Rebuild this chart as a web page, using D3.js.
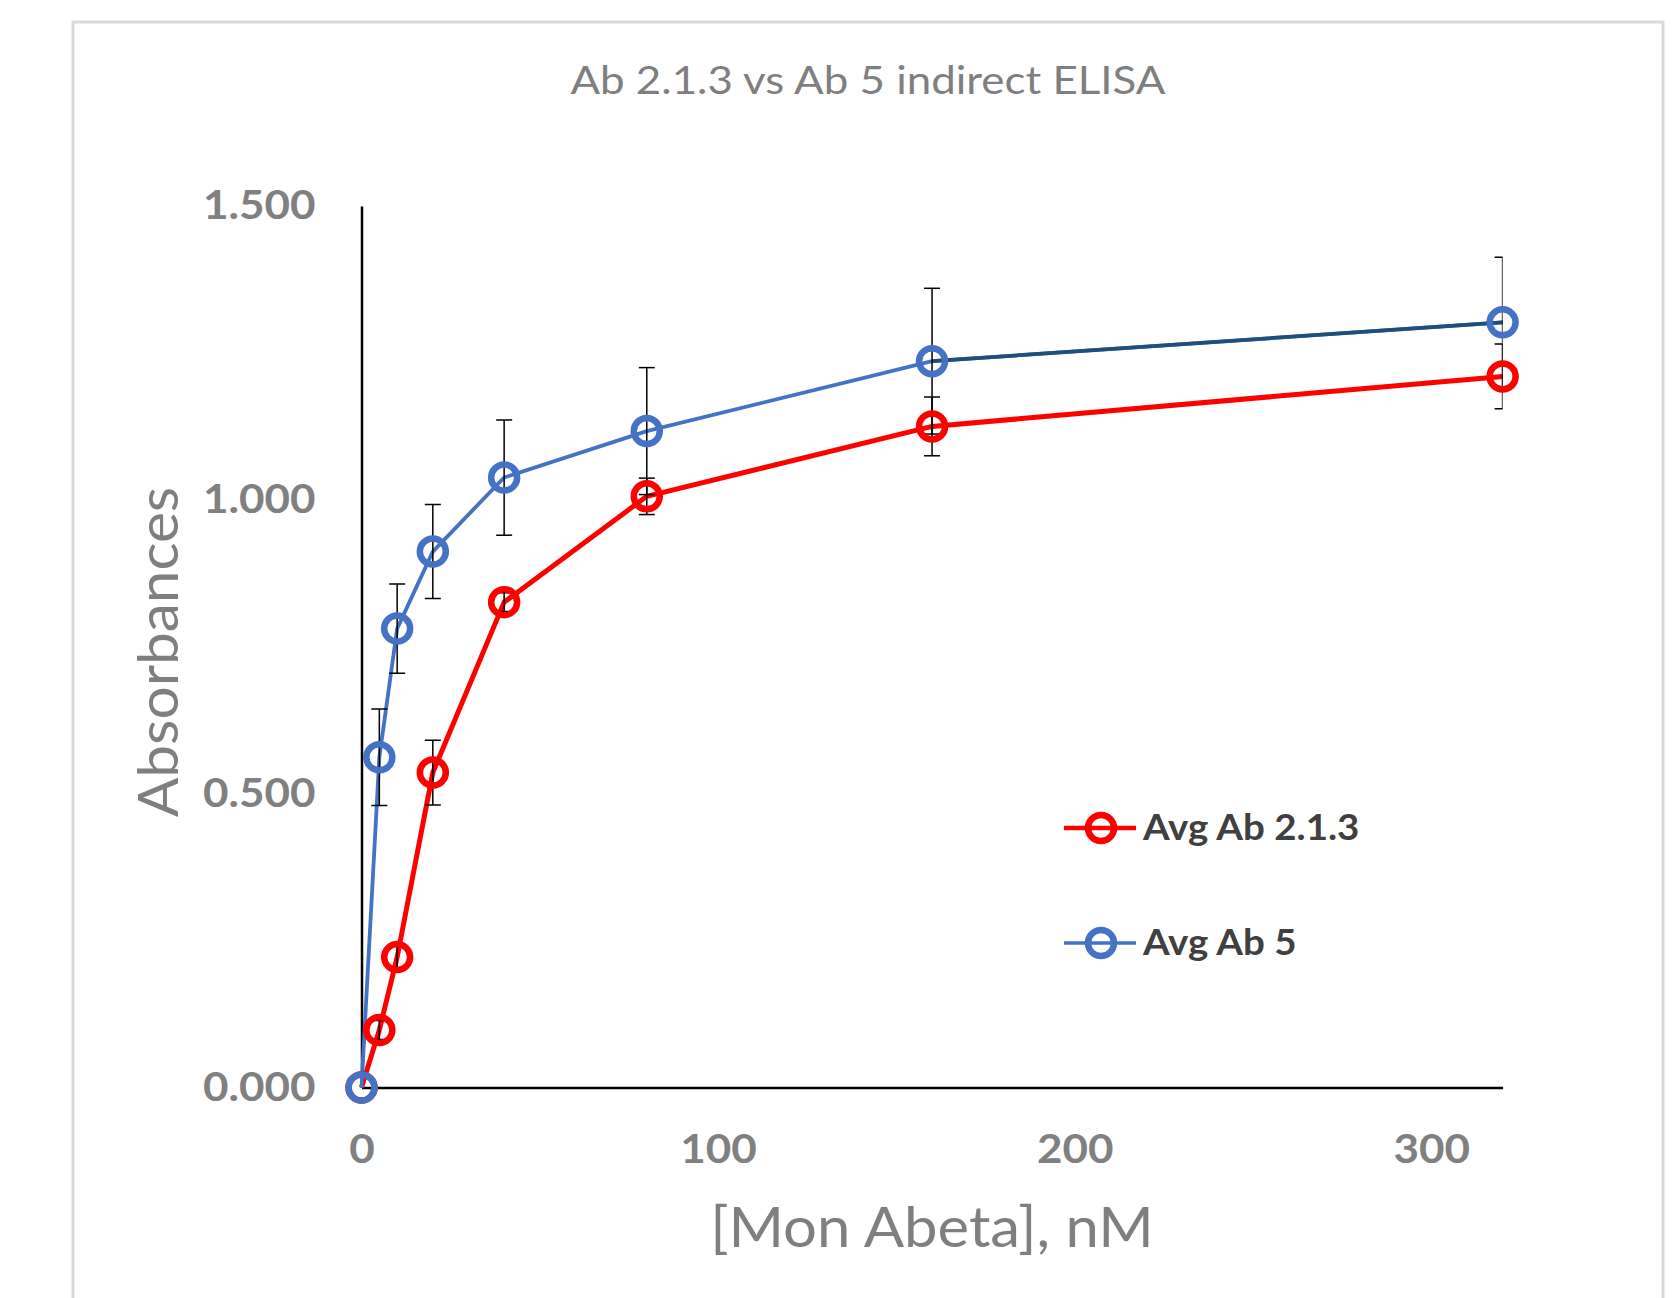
<!DOCTYPE html>
<html>
<head>
<meta charset="utf-8">
<script src="https://cdn.jsdelivr.net/npm/d3@7"></script>
<style>
  body { margin: 0; background: #fff; }
  text { font-family: Lato, "Open Sans", sans-serif; }
</style>
</head>
<body>
<svg></svg>
<script>
// concentrations of monomeric Abeta (nM)
const concentrations = [0, 5, 10, 20, 40, 80, 160, 320];

// averaged absorbances + error bar half-heights
const ab213 = [0, 0.098, 0.222, 0.536, 0.826, 1.006, 1.125, 1.210];
const ab213Err = [0, 0.016, 0.02, 0.055, 0.016, 0.031, 0.050, 0.055];
const ab5 = [0, 0.562, 0.781, 0.912, 1.038, 1.117, 1.236, 1.302];
const ab5Err = [0, 0.082, 0.076, 0.080, 0.098, 0.108, 0.124, 0.111];

const seriesNames = ["Avg Ab 2.1.3", "Avg Ab 5"];
const xTicks = [0, 100, 200, 300];
const yTicks = [0, 0.5, 1.0, 1.5];

let width = 1677, height = 1298;

let svg = d3.select("svg")
    .attr("width", width)
    .attr("height", height);

// the original's text is a bit wider than Lato, stretch it horizontally
function stretch(sel, k) {
    sel.each(function () {
        let w = this.getComputedTextLength();
        d3.select(this)
            .attr("textLength", w * k)
            .attr("lengthAdjust", "spacingAndGlyphs");
    });
}

// chart area border
svg.append("rect")
    .attr("x", 73)
    .attr("y", 22)
    .attr("width", 1590)
    .attr("height", 1320)
    .attr("fill", "#fff")
    .attr("stroke", "#d9d9d9")
    .attr("stroke-width", 3);

let x = d3.scaleLinear().domain([0, 320]).range([361.5, 1502.6]);
let y = d3.scaleLinear().domain([0, 1.5]).range([1087.6, 206]);

// title
svg.append("text")
    .attr("x", 868)
    .attr("y", 94)
    .attr("text-anchor", "middle")
    .style("font-size", "39px")
    .style("fill", "#7f7f7f")
    .text("Ab 2.1.3 vs Ab 5 indirect ELISA")
    .call(stretch, 1.125);

// axes
let yAxis = svg.append("g")
    .attr("transform", `translate(${x(0)},0)`)
    .call(d3.axisLeft(y).tickValues(yTicks).tickSize(0).tickPadding(46).tickFormat(d3.format(".3f")));

let xAxis = svg.append("g")
    .attr("transform", `translate(0,${y(0)})`)
    .call(d3.axisBottom(x).tickValues(xTicks).tickSize(0).tickPadding(47).tickFormat(d3.format("d")));

[yAxis, xAxis].forEach(ax => {
    ax.select(".domain").attr("stroke", "#000").attr("stroke-width", 2.5);
    ax.selectAll("text")
        .style("font-family", "Lato, sans-serif")
        .style("font-size", "40px")
        .style("font-weight", "bold")
        .style("fill", "#808080")
        .call(stretch, 1.1);
});

// axis titles
svg.append("text")
    .attr("transform", "translate(178,652) rotate(-90)")
    .attr("text-anchor", "middle")
    .style("font-size", "57px")
    .style("fill", "#7f7f7f")
    .text("Absorbances")
    .call(stretch, 1.027);

svg.append("text")
    .attr("x", 932)
    .attr("y", 1247)
    .attr("text-anchor", "middle")
    .style("font-size", "56px")
    .style("fill", "#7f7f7f")
    .text("[Mon Abeta], nM")
    .call(stretch, 1.068);

// build series
let series = [
    { name: seriesNames[0], values: ab213, err: ab213Err, color: "#ff0000", width: 5 },
    { name: seriesNames[1], values: ab5, err: ab5Err, color: "#4472c4", width: 3.8 }
].map(s => {
    s.points = concentrations.map((c, i) => ({ c: c, v: s.values[i], e: s.err[i] }));
    return s;
});

let line = d3.line().x(d => x(d.c)).y(d => y(d.v));

series.forEach(s => {
    svg.append("path")
        .datum(s.points)
        .attr("fill", "none")
        .attr("stroke", s.color)
        .attr("stroke-width", s.width)
        .attr("stroke-linejoin", "round")
        .attr("d", line);
});

// the last Ab 5 segment is drawn in a darker blue in the original
svg.append("path")
    .datum(series[1].points.slice(-2))
    .attr("fill", "none")
    .attr("stroke", "#1f4e79")
    .attr("stroke-width", 3.8)
    .attr("d", line);

// error bars, clipped to the plot area
svg.append("defs").append("clipPath")
    .attr("id", "plotClip")
    .append("rect")
    .attr("x", x(0) - 20)
    .attr("y", 0)
    .attr("width", x(320) - x(0) + 20)
    .attr("height", height);

let errG = svg.append("g").attr("clip-path", "url(#plotClip)");
series.forEach(s => {
    let bars = errG.selectAll(null)
        .data(s.points.filter(d => d.e > 0))
        .enter()
        .append("g")
        .attr("stroke", "#000")
        .attr("stroke-width", 1.5);
    bars.append("line")
        .attr("x1", d => x(d.c)).attr("x2", d => x(d.c))
        .attr("y1", d => y(d.v + d.e)).attr("y2", d => y(d.v - d.e));
    bars.append("line")
        .attr("x1", d => x(d.c) - 8).attr("x2", d => x(d.c) + 8)
        .attr("y1", d => y(d.v + d.e)).attr("y2", d => y(d.v + d.e));
    bars.append("line")
        .attr("x1", d => x(d.c) - 8).attr("x2", d => x(d.c) + 8)
        .attr("y1", d => y(d.v - d.e)).attr("y2", d => y(d.v - d.e));
});

// markers
series.forEach(s => {
    svg.append("g")
        .selectAll("circle")
        .data(s.points)
        .enter()
        .append("circle")
        .attr("cx", d => x(d.c))
        .attr("cy", d => y(d.v))
        .attr("r", 13)
        .attr("fill", "none")
        .attr("stroke", s.color)
        .attr("stroke-width", 6.5);
});

// legend
let legend = svg.append("g");
series.forEach((s, i) => {
    let ly = 828 + i * 115;
    legend.append("line")
        .attr("x1", 1064).attr("x2", 1136)
        .attr("y1", ly).attr("y2", ly)
        .attr("stroke", s.color)
        .attr("stroke-width", i == 0 ? 4.5 : 3.5);
    legend.append("circle")
        .attr("cx", 1101).attr("cy", ly)
        .attr("r", 13)
        .attr("fill", "none")
        .attr("stroke", s.color)
        .attr("stroke-width", 6.5);
    legend.append("text")
        .attr("x", 1143)
        .attr("y", ly + 12)
        .style("font-size", "37px")
        .style("font-weight", "bold")
        .style("fill", "#404040")
        .text(s.name)
        .call(stretch, 1.04);
});
</script>
</body>
</html>
